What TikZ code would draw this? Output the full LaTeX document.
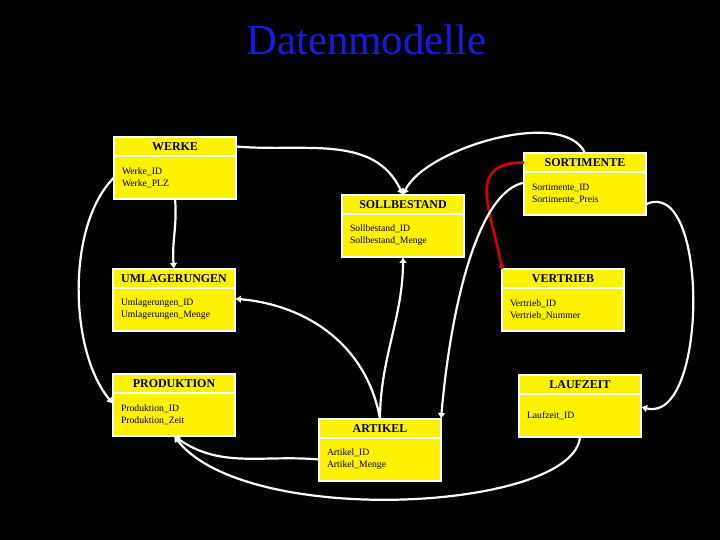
\documentclass[tikz,border=0pt]{standalone}
\usepackage{fontspec}
\setmainfont{Liberation Serif}
\usepackage{xcolor}
\usepackage{tikz}
\usetikzlibrary{arrows.meta}
\usetikzlibrary{positioning}
\tikzset{%
  >={Latex[width=8bp,length=6bp]},
  % Specifications for style of the tables:
  entity/.style = {rectangle, draw=white, line width=2bp, fill=yellow,
    outer sep=0pt, inner sep=0pt,
    minimum width=122bp,
    minimum height=19bp,
    text centered, font=\fontsize{12}{14}\selectfont\bfseries},
  entitydesc/.style = {entity, minimum height=43bp,
    text width=106bp, inner xsep=8bp,
    align=left, font=\fontsize{9.7}{12}\selectfont},
  % Specifications for style of the links:
  link/.style = {draw=white, line width=2.2bp, ->},
  redlink/.style = {draw=red!85!black, line width=2.6bp, -{Circle[length=5bp]}},
}
\definecolor{titleblue}{RGB}{25,25,230}

\begin{document}
\begin{tikzpicture}[x=1bp, y=1bp]
        \fill[black] (0,0) rectangle (720,540);
        \node(Title)[text=titleblue, font=\fontsize{43}{50}\selectfont, anchor=base] at (366.5,485) {Datenmodelle};
        % Specification of tables (position, etc.)
        \node(Werke)[entity] at (175,393.5) {WERKE};
        \node(Werkedesc)[entitydesc, below=0pt of Werke]{Werke\_ID\\Werke\_PLZ};
        \node(Soll)[entity] at (403,335.5) {SOLLBESTAND};
        \node(Solldesc)[entitydesc, below=0pt of Soll]{Sollbestand\_ID\\Sollbestand\_Menge};
        \node(Sort)[entity] at (585,377.5) {SORTIMENTE};
        \node(Sortdesc)[entitydesc, below=0pt of Sort]{Sortimente\_ID\\Sortimente\_Preis};
        \node(Vertrieb)[entity] at (563,261.5) {VERTRIEB};
        \node(Vertriebdesc)[entitydesc, below=0pt of Vertrieb]{Vertrieb\_ID\\Vertrieb\_Nummer};
        \node(Umlag)[entity] at (174,261.5) {UMLAGERUNGEN};
        \node(Umlagdesc)[entitydesc, below=0pt of Umlag]{Umlagerungen\_ID\\Umlagerungen\_Menge};
        \node(Prod)[entity] at (174,156.5) {PRODUKTION};
        \node(Proddesc)[entitydesc, below=0pt of Prod]{Produktion\_ID\\Produktion\_Zeit};
        \node(Artikel)[entity] at (380,111.5) {ARTIKEL};
        \node(Artikeldesc)[entitydesc, below=0pt of Artikel]{Artikel\_ID\\Artikel\_Menge};
        \node(Lauf)[entity] at (580,155.5) {LAUFZEIT};
        \node(Laufdesc)[entitydesc, below=0pt of Lauf]{Laufzeit\_ID};
        % Links between the tables
        \draw[link](Werke.east) to[out=-5, in=115] (Soll.north);
        \draw[link](Sort.north) to[out=115, in=65, looseness=0.7] (Soll.north);
        \draw[redlink](Sort.west) to[out=180, in=100, looseness=1.4] (Vertrieb.north west);
        \draw[link](Sortdesc.170) .. controls +(190:45) and +(85:120) .. (Artikel.north east);
        \draw[link](Artikel.north) .. controls +(90:60) and +(-90:60) .. (Solldesc.south);
        \draw[link](Artikel.north) to[out=100, in=-5] (Umlagdesc.10);
        \draw[link](Artikeldesc.west) to[out=175, in=-35] (Proddesc.south);
        \draw[link](Laufdesc.south) .. controls +(-95:74) and +(-52:118) .. (Proddesc.south);
        \draw[link](Werkedesc.south) to[out=-85, in=95] (Umlag.north);
        \draw[link](Werkedesc.west) .. controls +(225:68) and +(130:68) .. (Proddesc.170);
        \draw[link](Sortdesc.-10) .. controls +(25:70) and +(-15:70) .. (Laufdesc.8);
    \end{tikzpicture}
\end{document}
